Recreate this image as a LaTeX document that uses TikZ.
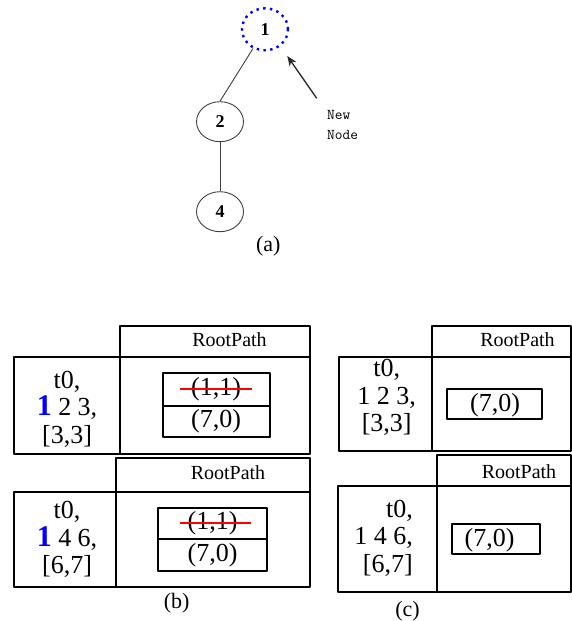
\documentclass[tikz,border=0pt]{standalone}
\usepackage{fontspec}
\setmainfont{Liberation Serif}
\usetikzlibrary{shapes.geometric,arrows.meta}
\begin{document}
\begin{tikzpicture}[x=1pt,y=-1pt,>={Stealth[length=10pt,width=8pt]},line join=round]
	\tikzset{
		tnode/.style={ellipse,draw=black!75,line width=.9pt,minimum width=47pt,minimum height=40pt,inner sep=0pt,font=\fontsize{18}{18}\selectfont\bfseries},
		newnode/.style={tnode,draw=blue,line width=2.4pt,dash pattern=on 2.4pt off 4.4pt,minimum width=46pt,minimum height=42pt},
		tbox/.style={line width=2pt},
		cell/.style={inner sep=0pt,font=\fontsize{26}{27.5}\selectfont},
		head/.style={inner sep=0pt,font=\fontsize{20}{20}\selectfont},
		cut/.style={red,line width=1.8pt},
	}
	\def\one{\textcolor{blue}{\fontsize{30}{30}\selectfont\bfseries 1}}
	\useasboundingbox (0,0) rectangle (572,621);
	% (a) tree
	\node[newnode] (n1) at (265,29.3) {1};
	\node[tnode] (n2) at (220,121.7) {2};
	\node[tnode] (n4) at (220,211.7) {4};
	\draw[black!75,line width=.9pt] (n1) -- (n2.north);
	\draw[black!75,line width=.9pt] (n2) -- (n4);
	\node[inner sep=0pt,anchor=west,align=left,font=\fontsize{15}{20}\ttfamily] (newlbl) at (327,125) {New\\Node};
	\coordinate (tail) at (316.7,98.3);
	\coordinate (tip) at (287.3,56);
	\draw[->,black!85,line width=1.3pt] (tail) -- (tip);
	\node[cell,font=\fontsize{22}{22}\selectfont] (capa) at (268.3,246.7) {(a)};
	% (b) tables
	\draw[tbox] (120,325.7) rectangle (310,357);
	\draw[tbox] (14,357) rectangle (310,454);
	\draw[tbox] (120,357) -- (120,454);
	\draw[tbox] (162.7,373.3) rectangle (270,436.7);
	\draw[tbox] (162.7,405.7) -- (270,405.7);
	\node[head] (bh1) at (229.5,340) {RootPath};
	\node[cell,align=center] (bk1) at (67,409) {t0,\\\one{} 2 3,\\{}[3,3]};
	\node[cell] (bp1) at (216,389.7) {(1,1)};
	\node[cell] (bq1) at (216,421.3) {(7,0)};
	\draw[cut] (180,389) -- (251.7,389);
	\draw[tbox] (115.7,458.3) rectangle (310,492.3);
	\draw[tbox] (14,492.3) rectangle (310,586.7);
	\draw[tbox] (115.7,492.3) -- (115.7,586.7);
	\draw[tbox] (158.3,507.7) rectangle (266.7,570.7);
	\draw[tbox] (158.3,539.3) -- (266.7,539.3);
	\node[head] (bh2) at (228,472.7) {RootPath};
	\node[cell,align=center] (bk2) at (67,539.5) {t0,\\\one{} 4 6,\\{}[6,7]};
	\node[cell] (bp2) at (212.5,523.5) {(1,1)};
	\node[cell] (bq2) at (212.5,555) {(7,0)};
	\draw[cut] (180,523) -- (250.7,523);
	\node[cell,font=\fontsize{22}{22}\selectfont] (capb) at (176.7,603.3) {(b)};
	% (c) tables
	\draw[tbox] (431.7,325.7) rectangle (570.7,356.7);
	\draw[tbox] (339,356.7) rectangle (570.7,450.7);
	\draw[tbox] (431.7,356.7) -- (431.7,450.7);
	\draw[tbox] (446.7,389.3) rectangle (541.7,419.3);
	\node[head] (ch1) at (517.5,340) {RootPath};
	\node[cell,align=center] (ck1) at (386.7,397.7) {t0,\\1 2 3,\\{}[3,3]};
	\node[cell] (cq1) at (495,405) {(7,0)};
	\draw[tbox] (437.3,455) rectangle (570.7,486);
	\draw[tbox] (338.3,486) rectangle (570.7,591.7);
	\draw[tbox] (437.3,486) -- (437.3,591.7);
	\draw[tbox] (451.7,524.3) rectangle (540,554.3);
	\node[head] (ch2) at (519,471.7) {RootPath};
	\node[cell,align=right,anchor=east] (ck2) at (413,538.3) {t0,\\1 4 6,\\{}[6,7]};
	\node[cell] (cq2) at (489.5,540) {(7,0)};
	\node[cell,font=\fontsize{22}{22}\selectfont] (capc) at (407.5,611.7) {(c)};
\end{tikzpicture}
\end{document}
